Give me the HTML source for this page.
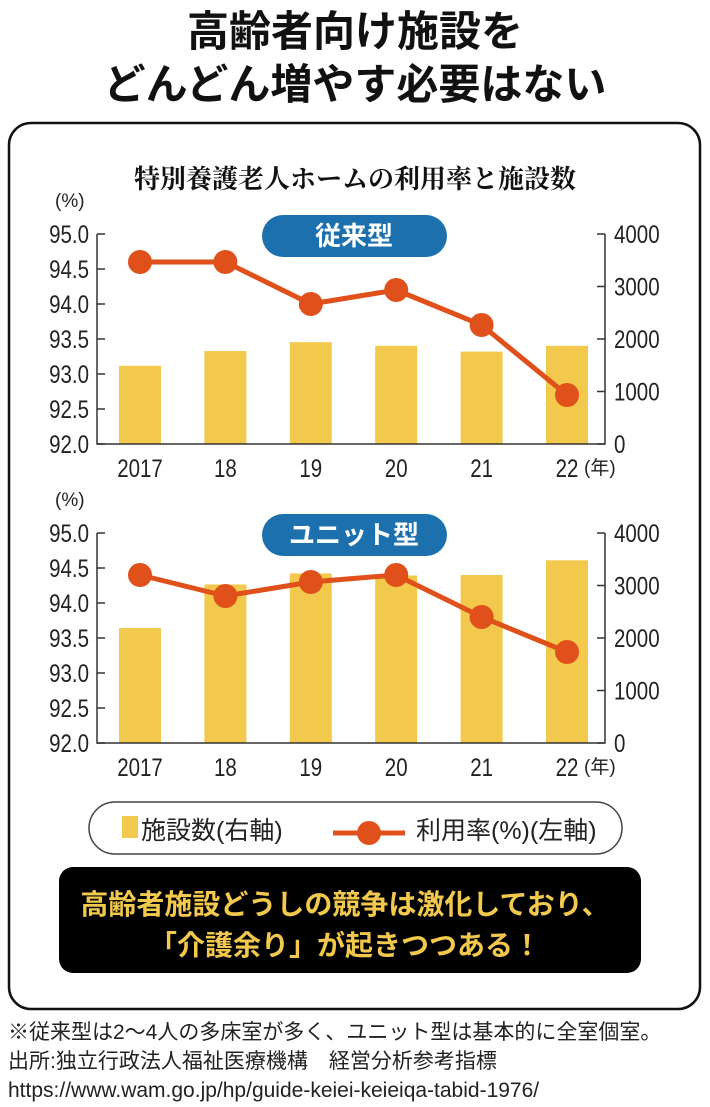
<!DOCTYPE html>
<html><head><meta charset="utf-8">
<style>
body{margin:0;width:710px;height:1107px;background:#fff;overflow:hidden;font-family:"Liberation Sans","Noto Sans CJK JP",sans-serif;}
svg{position:absolute;left:0;top:0;}
</style></head>
<body>
<svg id="s" width="710" height="1107" viewBox="0 0 710 1107" xmlns="http://www.w3.org/2000/svg" font-family="'Liberation Sans','Noto Sans CJK JP',sans-serif">
<text x="355" y="46" text-anchor="middle" font-size="42" font-weight="bold" fill="#111">高齢者向け施設を</text>
<text x="355" y="99" text-anchor="middle" font-size="42" font-weight="bold" fill="#111">どんどん増やす必要はない</text>
<rect x="9" y="123" width="691" height="886" rx="22" fill="none" stroke="#111" stroke-width="2.5"/>
<text x="355" y="188" text-anchor="middle" font-size="26" font-weight="bold" font-family="'Liberation Serif','Noto Serif CJK SC',serif" fill="#111">特別養護老人ホームの利用率と施設数</text>
<g id="c1"></g>
<g id="c2"></g>
<rect x="89" y="802" width="533" height="52" rx="26" fill="#fff" stroke="#444" stroke-width="1.5"/>
<rect x="122" y="816" width="16" height="22" fill="#f2c94c"/>
<text x="141" y="839" font-size="25" fill="#222">施設数(右軸)</text>
<line x1="333" y1="833" x2="405" y2="833" stroke="#e0501a" stroke-width="5"/>
<circle cx="369" cy="833" r="12" fill="#e0501a"/>
<text x="416" y="839" font-size="25" fill="#222">利用率(%)(左軸)</text>
<rect x="59" y="867" width="582" height="106" rx="14" fill="#000"/>
<text x="345" y="914" text-anchor="middle" font-size="28" font-weight="bold" fill="#f2c94c">高齢者施設どうしの競争は激化しており、</text>
<text x="345" y="955" text-anchor="middle" font-size="28" font-weight="bold" fill="#f2c94c">「介護余り」が起きつつある！</text>
<text x="8" y="1039" font-size="21" fill="#222">※従来型は2〜4人の多床室が多く、ユニット型は基本的に全室個室。</text>
<text x="8" y="1068" font-size="21" fill="#222">出所:独立行政法人福祉医療機構　経営分析参考指標</text>
<text x="8" y="1097" font-size="21" fill="#222">https://www.wam.go.jp/hp/guide-keiei-keieiqa-tabid-1976/</text>
</svg>
<script>
const categories=["2017","18","19","20","21","22"];
const leftTicks=["95.0","94.5","94.0","93.5","93.0","92.5","92.0"];
const rightTicks=["4000","3000","2000","1000","0"];
const rateTraditional=[94.6,94.6,94.0,94.2,93.7,92.7];
const facilitiesTraditional=[1490,1770,1940,1870,1760,1870];
const rateUnit=[94.4,94.1,94.3,94.4,93.8,93.3];
const facilitiesUnit=[2190,3020,3230,3190,3200,3480];
const NS="http://www.w3.org/2000/svg";
function mk(p,t,a){const e=document.createElementNS(NS,t);for(const k in a)e.setAttribute(k,a[k]);p.appendChild(e);return e;}
function narrow(g,x,y,anchor,txt){const t=mk(g,"text",{x:0,y:0,"text-anchor":anchor,"font-size":25,fill:"#222",transform:`translate(${x},${y}) scale(0.82,1)`});t.textContent=txt;return t;}
function chart(g,top,label,rates,facs,key){
 const x0=97,x1=605,y0=top,y1=top+210;
 const xs=i=>140+i*85.4;
 const yl=v=>y1-(v-92)/3*210;
 const yr=v=>y1-v/4000*210;
 const pu=mk(g,"text",{x:55,y:top-27,"font-size":19,fill:"#222"});pu.textContent="(%)";
 for(let i=0;i<leftTicks.length;i++){
  const v=parseFloat(leftTicks[i]);const y=yl(v);
  mk(g,"line",{x1:x0,y1:y,x2:x0+8,y2:y,stroke:"#333","stroke-width":1.5});
  const t=narrow(g,89,y+9,"end",leftTicks[i]);
  
  
 }
 for(let i=0;i<rightTicks.length;i++){
  const y=yr(parseFloat(rightTicks[i]));
  mk(g,"line",{x1:x1-8,y1:y,x2:x1,y2:y,stroke:"#333","stroke-width":1.5});
  const t=narrow(g,614,y+9,"start",rightTicks[i]);
  
  
 }
 for(let i=0;i<facs.length;i++){
  const b=mk(g,"rect",{x:xs(i)-21,y:yr(facs[i]),width:42,height:y1-yr(facs[i]),fill:"#f2c94c"});
  
  
  const t=narrow(g,xs(i),y1+33,"middle",categories[i]);
  
  
 }
 const yu=mk(g,"text",{x:584,y:y1+30,"font-size":19,fill:"#222"});yu.textContent="(年)";
 mk(g,"path",{d:`M${x0} ${y0}V${y1}H${x1}V${y0}`,fill:"none",stroke:"#333","stroke-width":1.5});
 const pill=mk(g,"rect",{x:262,y:top-19,width:185,height:42,rx:21,fill:"#1b70ad"});
 
 
 const pt=mk(g,"text",{x:354,y:top+11,"text-anchor":"middle","font-size":26,"font-weight":"bold",fill:"#fff"});pt.textContent=label;
 const pts=rates.map((v,i)=>xs(i)+","+yl(v)).join(" ");
 const ln=mk(g,"polyline",{points:pts,fill:"none",stroke:"#e0501a","stroke-width":5});
 
 
 rates.forEach((v,i)=>{const c=mk(g,"circle",{cx:xs(i),cy:yl(v),r:12,fill:"#e0501a"});
  
  });
}
chart(document.getElementById("c1"),234,"従来型",rateTraditional,facilitiesTraditional,"traditional");
chart(document.getElementById("c2"),533,"ユニット型",rateUnit,facilitiesUnit,"unit");
</script>
</body></html>
